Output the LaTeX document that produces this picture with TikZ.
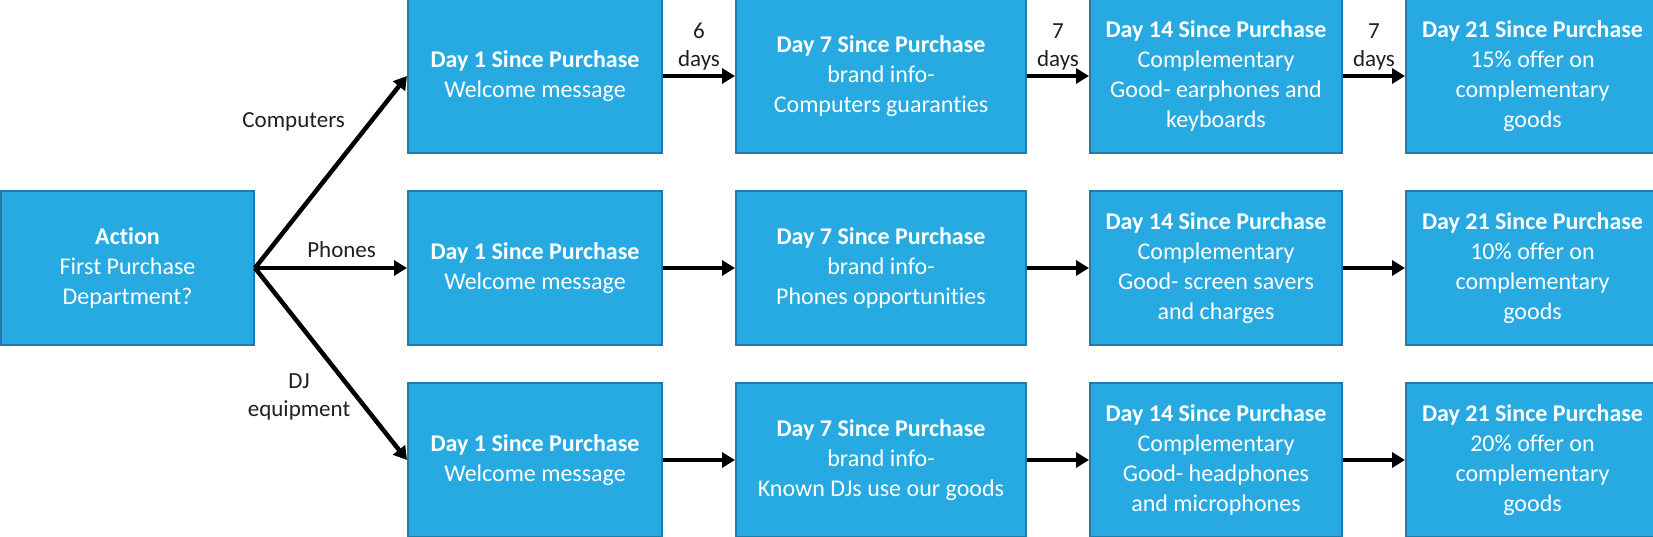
\documentclass[tikz,border=0pt]{standalone}
\usepackage{fontspec}
\setmainfont[Ligatures=NoCommon]{Carlito}
\usetikzlibrary{
  positioning,
  arrows.meta
}
\definecolor{boxfill}{HTML}{27AAE1}
\definecolor{boxline}{HTML}{1F7BAA}

\tikzset{
  stage/.style = {draw=boxline, line width=2pt, fill=boxfill, text=white,
    align=center, minimum width=254pt, minimum height=154pt, inner sep=2pt,
    font=\fontsize{24}{30}\selectfont},
  widestage/.style = {stage, minimum width=290pt},
  flow/.style = {-{Triangle[length=13pt,width=15pt]}, line width=4.5pt},
  lbl/.style = {font=\fontsize{23}{28}\selectfont, align=center, text=black!88}
}

\begin{document}
\begin{tikzpicture}[x=1pt, y=-1pt, node distance=36pt and 72pt]
    \useasboundingbox (0,0) rectangle (1653,536);

    \node[stage,minimum width=253pt] (act) at (127.5,268) {\textbf{Action}\\First Purchase\\Department?};

    \node[stage,right=152pt of act] (ph1) {\textbf{Day 1 Since Purchase}\\Welcome message};
    \node[stage,above=of ph1] (co1) {\textbf{Day 1 Since Purchase}\\Welcome message};
    \node[stage,below=of ph1] (dj1) {\textbf{Day 1 Since Purchase}\\Welcome message};

    \node[widestage,right=of co1] (co2) {\textbf{Day 7 Since Purchase}\\brand info-\\Computers guaranties};
    \node[widestage,right=of ph1] (ph2) {\textbf{Day 7 Since Purchase}\\brand info-\\Phones opportunities};
    \node[widestage,right=of dj1] (dj2) {\textbf{Day 7 Since Purchase}\\brand info-\\Known DJs use our goods};

    \node[stage,minimum width=252pt,right=62pt of co2] (co3) {\textbf{Day 14 Since Purchase}\\Complementary\\Good- earphones and\\keyboards};
    \node[stage,minimum width=252pt,right=62pt of ph2] (ph3) {\textbf{Day 14 Since Purchase}\\Complementary\\Good- screen savers\\and charges};
    \node[stage,minimum width=252pt,right=62pt of dj2] (dj3) {\textbf{Day 14 Since Purchase}\\Complementary\\Good- headphones\\and microphones};

    \node[stage,minimum width=253pt,right=62pt of co3] (co4) {\textbf{Day 21 Since Purchase}\\15\% offer on\\complementary\\goods};
    \node[stage,minimum width=253pt,right=62pt of ph3] (ph4) {\textbf{Day 21 Since Purchase}\\10\% offer on\\complementary\\goods};
    \node[stage,minimum width=253pt,right=62pt of dj3] (dj4) {\textbf{Day 21 Since Purchase}\\20\% offer on\\complementary\\goods};

    % branches
    \draw[flow] (act.east) -- node[lbl,pos=0.76,anchor=east,xshift=-20pt] {Computers} (co1.west);
    \draw[flow] (act.east) -- node[lbl,pos=0.57,above,yshift=5pt] {Phones} (ph1.west);
    \draw[flow] (act.east) -- node[lbl,pos=0.67,anchor=east,xshift=-1pt] {DJ\\equipment} (dj1.west);

    % follow-ups
    \draw[flow] (co1) -- node[lbl,above] {6\\days} (co2);
    \draw[flow] (co2) -- node[lbl,above] {7\\days} (co3);
    \draw[flow] (co3) -- node[lbl,above] {7\\days} (co4);
    \draw[flow] (ph1) -- (ph2);
    \draw[flow] (ph2) -- (ph3);
    \draw[flow] (ph3) -- (ph4);
    \draw[flow] (dj1) -- (dj2);
    \draw[flow] (dj2) -- (dj3);
    \draw[flow] (dj3) -- (dj4);
\end{tikzpicture}
\end{document}
